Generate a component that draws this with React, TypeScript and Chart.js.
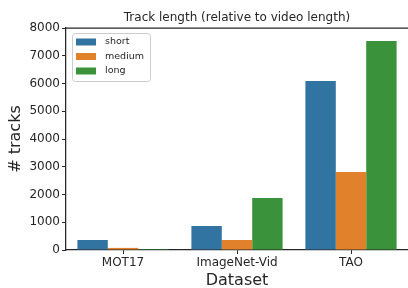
import { useEffect, useRef } from 'react';
import { Chart, registerables } from 'chart.js';
Chart.register(...registerables);

const categories = ['MOT17', 'ImageNet-Vid', 'TAO'];
const seriesNames = ['short', 'medium', 'long'];
const shortVals = [360, 865, 6090];
const mediumVals = [75, 360, 2810];
const longVals = [35, 1875, 7530];
const colors = ['#3274a1', '#e1812c', '#3a923a'];
const yMax = 8000;
const yStep = 1000;
const titleText = 'Track length (relative to video length)';
const xTitle = 'Dataset';
const yTitle = '# tracks';

const FONT = "'DejaVu Sans', sans-serif";
const INK = '#262626';

const decor = {
  id: 'decor',
  afterDraw(chart: any) {
    const { ctx, chartArea } = chart;
    const { left, right, top } = chartArea;
    ctx.save();
    // top spine
    ctx.strokeStyle = INK;
    ctx.lineWidth = 1.25;
    ctx.beginPath();
    ctx.moveTo(left, top);
    ctx.lineTo(right, top);
    ctx.stroke();
    // title
    ctx.fillStyle = INK;
    ctx.font = `12px ${FONT}`;
    ctx.textAlign = 'center';
    ctx.textBaseline = 'alphabetic';
    ctx.fillText(titleText, (left + right) / 2, top - 7);
    // legend
    const bx = left + 6;
    const by = top + 5;
    const bw = 78;
    const bh = 48;
    ctx.beginPath();
    (ctx as any).roundRect(bx + 0.5, by + 0.5, bw, bh, 3);
    ctx.fillStyle = 'rgba(255,255,255,0.8)';
    ctx.fill();
    ctx.strokeStyle = '#cccccc';
    ctx.lineWidth = 1;
    ctx.stroke();
    ctx.font = `9.5px ${FONT}`;
    ctx.textAlign = 'left';
    ctx.textBaseline = 'middle';
    const rows = [9, 23.5, 38];
    chart.data.datasets.forEach((ds: any, i: number) => {
      const cy = by + rows[i];
      ctx.fillStyle = ds.backgroundColor;
      ctx.fillRect(bx + 4, cy - 3.5, 20, 7);
      ctx.fillStyle = INK;
      ctx.fillText(ds.label, bx + 33, cy);
    });
    ctx.restore();
  },
};

export default function App() {
  const ref = useRef<HTMLCanvasElement>(null);
  useEffect(() => {
    if (!ref.current) return;
    const chart = new Chart(ref.current, {
      type: 'bar',
      data: {
        labels: categories,
        datasets: [shortVals, mediumVals, longVals].map((d, i) => ({
          label: seriesNames[i],
          data: d,
          backgroundColor: colors[i],
          borderWidth: 0,
          categoryPercentage: 0.8,
          barPercentage: 1.0,
        })),
      },
      options: {
        animation: false,
        responsive: false,
        maintainAspectRatio: false,
        layout: { padding: { top: 28, right: 0, left: 0, bottom: 0 } },
        plugins: {
          legend: { display: false },
          title: { display: false },
          tooltip: { enabled: false },
        },
        scales: {
          x: {
            offset: true,
            grid: {
              display: true,
              offset: false,
              drawOnChartArea: false,
              drawTicks: true,
              tickLength: 4,
              color: INK,
              lineWidth: 1,
            },
            border: { display: true, color: INK, width: 1.25 },
            ticks: { color: INK, font: { family: FONT, size: 12 }, padding: 2 },
            title: {
              display: true,
              text: xTitle,
              color: INK,
              font: { family: FONT, size: 16, lineHeight: 0.95 },
              padding: { top: 0, bottom: 0 },
            },
            afterFit(scale: any) {
              scale.height = 38;
            },
          },
          y: {
            min: 0,
            max: yMax,
            grid: {
              display: true,
              drawOnChartArea: false,
              drawTicks: true,
              tickLength: 4,
              color: INK,
              lineWidth: 1,
            },
            border: { display: true, color: INK, width: 1.25 },
            ticks: {
              stepSize: yStep,
              color: INK,
              font: { family: FONT, size: 12 },
              padding: 2,
              callback: (v: any) => String(v),
            },
            title: {
              display: true,
              text: yTitle,
              color: INK,
              font: { family: FONT, size: 16 },
              padding: { top: 6, bottom: 0 },
            },
            afterFit(scale: any) {
              scale.width = 66;
            },
          },
        },
      },
      plugins: [decor],
    });
    return () => chart.destroy();
  }, []);
  return (
    <div style={{ position: 'fixed', left: 0, top: 0, width: 408, height: 288 }}>
      <canvas ref={ref} width={408} height={288} style={{ display: 'block' }} />
    </div>
  );
}
